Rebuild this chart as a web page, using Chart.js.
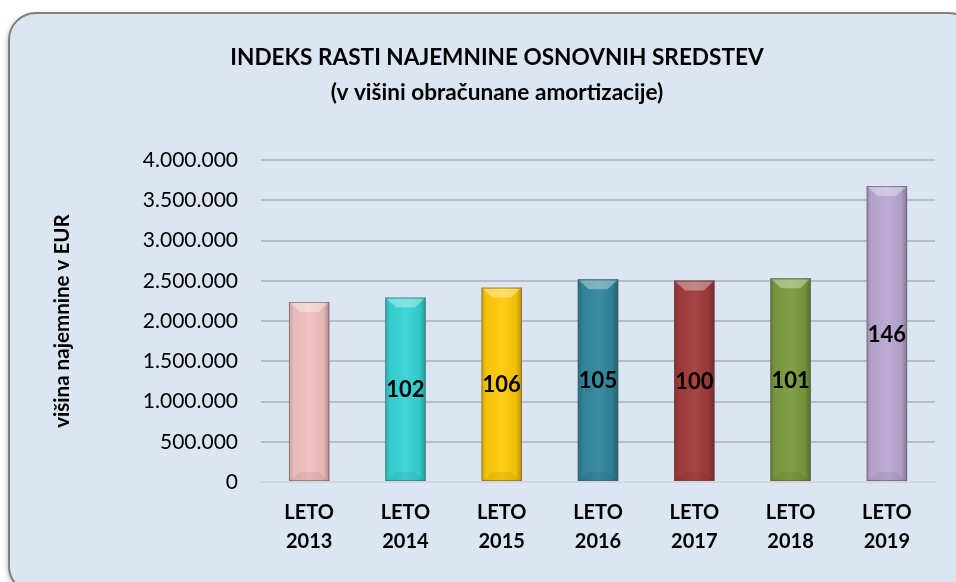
<!DOCTYPE html>
<html>
<head>
<meta charset="utf-8">
<script src="https://cdn.jsdelivr.net/npm/chart.js@4.4.1/dist/chart.umd.min.js"></script>
<style>
html, body { margin: 0; padding: 0; background: #fff; }
</style>
</head>
<body>
<canvas id="myChart" width="956" height="582"></canvas>
<script>
// podatki
const leta = [['LETO', '2013'], ['LETO', '2014'], ['LETO', '2015'], ['LETO', '2016'], ['LETO', '2017'], ['LETO', '2018'], ['LETO', '2019']]
const najemnina = [2236000, 2291000, 2415000, 2518000, 2502000, 2530000, 3677000]
const indeksi = ['', '102', '106', '105', '100', '101', '146']
const barve = ['#f2c0c0', '#36d3d3', '#ffc90a', '#31869c', '#a03b3a', '#7a9a3e', '#b9a7d1']
const naslov = ['INDEKS RASTI NAJEMNINE OSNOVNIH SREDSTEV', '(v višini obračunane amortizacije)']
const osY = 'višina najemnine v EUR'

const font = 'Lato'
const pike = v => String(v).replace(/\B(?=(\d{3})+(?!\d))/g, '.')

// okvir z zaobljenimi robovi
const okvir = {
  id: 'okvir',
  beforeDraw(chart) {
    const c = chart.ctx
    c.save()
    c.fillStyle = '#fff'
    c.fillRect(0, 0, chart.width, chart.height)
    c.beginPath()
    c.roundRect(9, 13, 966, 580, 27)
    c.shadowColor = 'rgba(0,0,0,0.25)'
    c.shadowBlur = 5
    c.shadowOffsetX = -2
    c.shadowOffsetY = 2
    c.fillStyle = '#dce6f2'
    c.fill()
    c.shadowColor = 'transparent'
    c.lineWidth = 2
    c.strokeStyle = '#7f7f7f'
    c.stroke()
    c.restore()
  }
}

// senčenje stolpcev in indeksi v sredini
const stolpci = {
  id: 'stolpci',
  afterDatasetsDraw(chart) {
    const c = chart.ctx
    chart.getDatasetMeta(0).data.forEach((bar, i) => {
      const w = bar.width, l = bar.x - w / 2, r = bar.x + w / 2, t = bar.y, b = bar.base
      c.save()
      let g = c.createLinearGradient(l, 0, r, 0)
      g.addColorStop(0, 'rgba(0,0,0,0.18)')
      g.addColorStop(0.12, 'rgba(0,0,0,0.03)')
      g.addColorStop(0.5, 'rgba(255,255,255,0.06)')
      g.addColorStop(0.85, 'rgba(0,0,0,0.05)')
      g.addColorStop(1, 'rgba(0,0,0,0.28)')
      c.fillStyle = g
      c.fillRect(l, t, w, b - t)
      // zgornja poševnina
      c.beginPath()
      c.moveTo(l + 1, t + 1); c.lineTo(r - 1, t + 1); c.lineTo(r - 11, t + 10); c.lineTo(l + 11, t + 10); c.closePath()
      c.fillStyle = 'rgba(255,255,255,0.35)'
      c.fill()
      // spodnja poševnina
      c.beginPath()
      c.moveTo(l + 1, b); c.lineTo(r - 1, b); c.lineTo(r - 11, b - 9); c.lineTo(l + 11, b - 9); c.closePath()
      c.fillStyle = 'rgba(0,0,0,0.06)'
      c.fill()
      c.strokeStyle = 'rgba(90,90,90,0.55)'
      c.lineWidth = 1
      c.strokeRect(l + 0.5, t + 0.5, w - 1, b - t - 1)
      if (indeksi[i]) {
        c.font = `bold 22px ${font}`
        c.fillStyle = '#000'
        c.textAlign = 'center'
        c.textBaseline = 'middle'
        c.fillText(indeksi[i], bar.x, (t + b) / 2 + 1)
      }
      c.restore()
    })
  }
}

const ctx = document.getElementById('myChart')
const myChart = new Chart(ctx, {
  type: 'bar',
  data: {
    labels: leta,
    datasets: [{ data: najemnina, backgroundColor: barve, borderWidth: 0, categoryPercentage: 1, barPercentage: 0.42 }]
  },
  options: {
    responsive: false,
    animation: false,
    layout: { padding: { left: 59, right: 21, top: 0, bottom: 0 } },
    plugins: {
      legend: { display: false },
      tooltip: { enabled: false },
      title: {
        display: true,
        text: naslov,
        color: '#000',
        font: { family: font, size: 22.6, weight: 'bold', lineHeight: 35 / 22.6 },
        padding: { top: 40, bottom: 50 }
      }
    },
    scales: {
      x: {
        grid: { display: false, drawTicks: false },
        border: { display: true, color: '#d3d6dc', width: 2 },
        ticks: { color: '#000', font: { family: font, size: 20, weight: 'bold', lineHeight: 29 / 20 }, padding: 16, maxRotation: 0 },
        afterFit: s => { s.height = 100 }
      },
      y: {
        min: 0, max: 4000000,
        grid: { drawTicks: false, color: c => c.tick.value === 0 ? '#d3d6dc' : '#b9bdc5', lineWidth: 2 },
        border: { display: false },
        ticks: { stepSize: 500000, color: '#000', font: { family: font, size: 21 }, padding: 23, callback: v => pike(v) },
        title: { display: true, text: osY, color: '#000', font: { family: font, size: 20.6, weight: 'bold', lineHeight: 1.2 }, padding: { top: -9.4, bottom: 0 } },
        afterFit: s => { s.width = 202 }
      }
    }
  },
  plugins: [okvir, stolpci]
})
</script>
</body>
</html>
